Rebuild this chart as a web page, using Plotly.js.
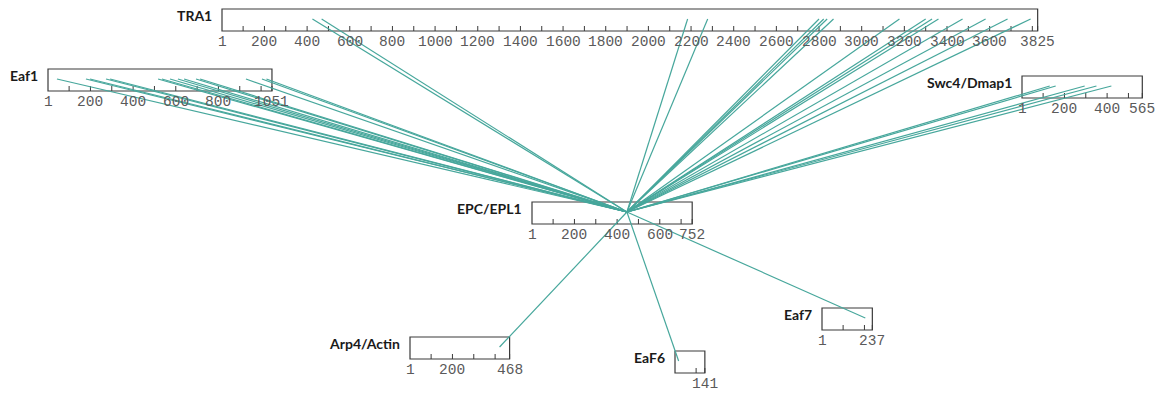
<!DOCTYPE html>
<html>
<head>
<meta charset="utf-8">
<script src="https://cdn.plot.ly/plotly-3.0.1.min.js"></script>
<style>html,body{margin:0;padding:0;background:#fff}#chart{width:1161px;height:394px}</style>
</head>
<body>
<div id="chart"></div>
<script>
// ---- data ----
const proteins = ["TRA1", "Eaf1", "Swc4/Dmap1", "EPC/EPL1", "Arp4/Actin", "EaF6", "Eaf7"];
const lengths  = [3825, 1051, 565, 752, 468, 141, 237];

// crosslinks to EPC/EPL1: partner residue and EPC residue
const tra1Res   = [425, 468, 2184, 2278, 2800, 2822, 2838, 2868, 3177, 3300, 3330, 3360, 3473, 3581, 3684, 3792];
const tra1Epc   = [446, 446, 446, 446, 446, 446, 446, 446, 446, 446, 446, 446, 446, 446, 446, 446];
const eaf1Res   = [43, 179, 198, 273, 292, 517, 535, 573, 610, 639, 695, 714, 929, 1004, 1025];
const eaf1Epc   = [446, 446, 446, 446, 446, 446, 446, 446, 446, 446, 446, 446, 446, 446, 446];
const swc4Res   = [131, 159, 295, 350, 420];
const swc4Epc   = [446, 446, 446, 446, 446];
const arp4Res   = [421];
const arp4Epc   = [446];
const eaf6Res   = [18];
const eaf6Epc   = [446];
const eaf7Res   = [204];
const eaf7Epc   = [446];

// ---- layout (positions / styles) ----
const SCALE = 0.2133;           // px per residue
const BOX_H = 22;
const place = {
  "TRA1":       {x: 222,  y: 9},
  "Eaf1":       {x: 48,   y: 69},
  "Swc4/Dmap1": {x: 1022, y: 76},
  "EPC/EPL1":   {x: 532,  y: 202},
  "Arp4/Actin": {x: 410,  y: 337},
  "EaF6":       {x: 675,  y: 351, hideFirst: true},
  "Eaf7":       {x: 822,  y: 308}
};
const LINK_COLOR = "#47a79c";

function resX(name, r) { return place[name].x + (r - 1) * SCALE; }
function anchorY(name) { return place[name].y + 10; }

const shapes = [];
const annotations = [];

proteins.forEach((name, i) => {
  const L = lengths[i];
  const p = place[name];
  const x0 = p.x, x1 = resX(name, L), y0 = p.y, y1 = p.y + BOX_H;
  shapes.push({type: "rect", xref: "x", yref: "y", x0: x0, x1: x1, y0: y0, y1: y1,
    line: {color: "#3a3a3a", width: 1.2}, fillcolor: "#ffffff", layer: "below"});
  // ticks every 100
  for (let t = 100; t < L; t += 100) {
    shapes.push({type: "line", xref: "x", yref: "y", x0: resX(name, t), x1: resX(name, t),
      y0: y1, y1: y1 - 5, line: {color: "#3a3a3a", width: 1}, layer: "below"});
  }
  shapes.push({type: "line", xref: "x", yref: "y", x0: x1, x1: x1, y0: y1, y1: y1 - 5,
      line: {color: "#3a3a3a", width: 1}, layer: "below"});
  // tick labels
  const labs = [];
  if (!p.hideFirst) labs.push([1, "1"]);
  for (let t = 200; t < L; t += 200) {
    if (L - t >= 100) labs.push([t, String(t)]);
  }
  labs.push([L, String(L)]);
  labs.forEach(([v, txt]) => {
    annotations.push({x: resX(name, v), y: y1 + 11, xref: "x", yref: "y", text: txt,
      showarrow: false, xanchor: "center", yanchor: "middle", borderpad: 0, borderwidth: 0,
      font: {family: "Liberation Mono, monospace", size: 14.5, color: "#5a5a5a"}});
  });
  // name label
  annotations.push({x: x0 - 8, y: y0 + 6, xref: "x", yref: "y", text: "<b>" + name + "</b>",
    showarrow: false, xanchor: "right", yanchor: "middle",
    font: {family: "Lato, sans-serif", size: 14, color: "#1a1a1a"}});
});

const linkSets = [
  ["TRA1", tra1Res, tra1Epc],
  ["Eaf1", eaf1Res, eaf1Epc],
  ["Swc4/Dmap1", swc4Res, swc4Epc],
  ["Arp4/Actin", arp4Res, arp4Epc],
  ["EaF6", eaf6Res, eaf6Epc],
  ["Eaf7", eaf7Res, eaf7Epc]
];
const lx = [], ly = [];
linkSets.forEach(([name, res, epc]) => {
  res.forEach((r, k) => {
    lx.push(resX(name, r), resX("EPC/EPL1", epc[k]), null);
    ly.push(anchorY(name), anchorY("EPC/EPL1"), null);
  });
});

const traces = [{
  x: lx, y: ly, type: "scatter", mode: "lines", hoverinfo: "skip",
  line: {color: LINK_COLOR, width: 1.2}, showlegend: false
}];

const layout = {
  width: 1161, height: 394,
  margin: {l: 0, r: 0, t: 0, b: 0},
  paper_bgcolor: "#ffffff", plot_bgcolor: "#ffffff",
  xaxis: {range: [0, 1161], visible: false, fixedrange: true},
  yaxis: {range: [394, 0], visible: false, fixedrange: true},
  shapes: shapes, annotations: annotations, showlegend: false
};

Plotly.newPlot("chart", traces, layout, {staticPlot: true, displayModeBar: false});
</script>
</body>
</html>
